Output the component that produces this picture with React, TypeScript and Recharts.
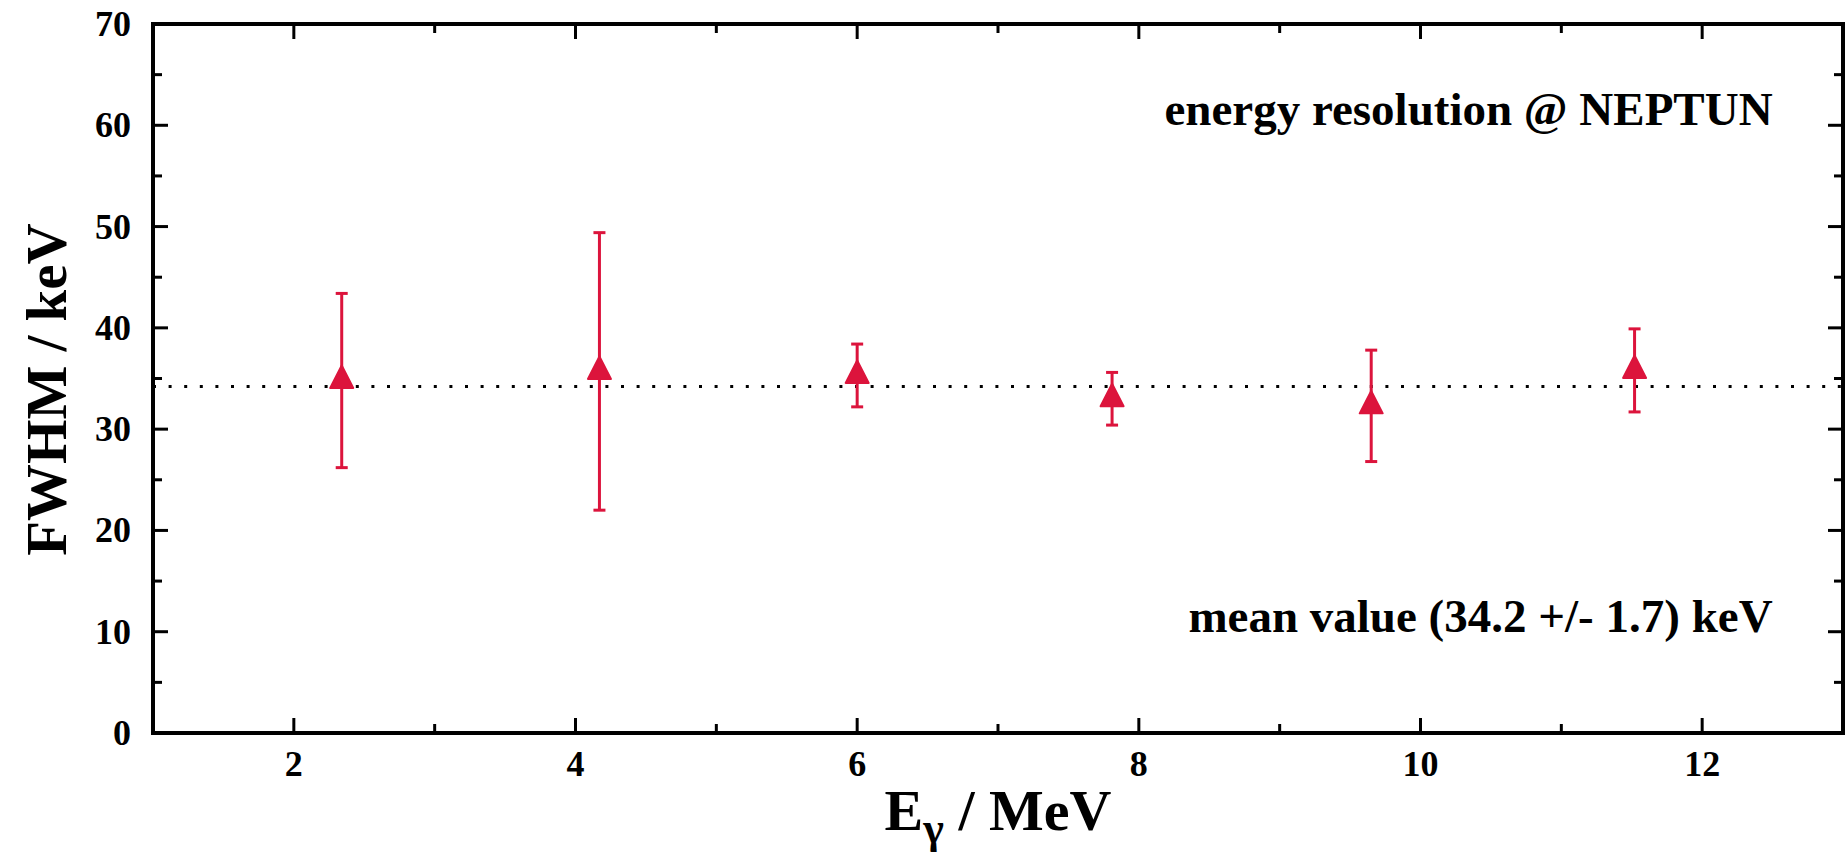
import React from "react";
import {
  ScatterChart,
  Scatter,
  XAxis,
  YAxis,
  ErrorBar,
  ReferenceLine,
  ReferenceDot,
} from "recharts";

// measured FWHM of the gamma lines vs. energy
const energies = [2.34, 4.17, 6.0, 7.81, 9.65, 11.52];
const fwhm = [34.8, 35.7, 35.3, 33.0, 32.3, 35.8];
const fwhmErr = [8.6, 13.7, 3.1, 2.6, 5.5, 4.1];

const meanFwhm = 34.2;
const meanErr = 1.7;

const xTicks = [2, 3, 4, 5, 6, 7, 8, 9, 10, 11, 12];
const xLabels = [2, 4, 6, 8, 10, 12];
const yTicks = [0, 5, 10, 15, 20, 25, 30, 35, 40, 45, 50, 55, 60, 65, 70];
const yLabels = [0, 10, 20, 30, 40, 50, 60, 70];

const data = energies.map((e, i) => ({ e, fwhm: fwhm[i], err: fwhmErr[i] }));

const RED = "#dc143c";
const FONT = "'Liberation Serif', 'Times New Roman', serif";
const MAJOR = 15;
const MINOR = 9;

const BottomTick = (props: any) => {
  const { x, y, payload } = props;
  const major = xLabels.includes(payload.value);
  return (
    <g>
      <line x1={x} x2={x} y1={y} y2={y - (major ? MAJOR : MINOR)} stroke="#000" strokeWidth={3} />
      {major && (
        <text x={x} y={y + 43} textAnchor="middle" fontSize={36} fontWeight="bold" fontFamily={FONT} fill="#000">
          {payload.value}
        </text>
      )}
    </g>
  );
};

const TopTick = (props: any) => {
  const { x, y, payload } = props;
  const major = xLabels.includes(payload.value);
  return <line x1={x} x2={x} y1={y} y2={y + (major ? MAJOR : MINOR)} stroke="#000" strokeWidth={3} />;
};

const LeftTick = (props: any) => {
  const { x, y, payload } = props;
  const major = yLabels.includes(payload.value);
  return (
    <g>
      <line x1={x} x2={x + (major ? MAJOR : MINOR)} y1={y} y2={y} stroke="#000" strokeWidth={3} />
      {major && (
        <text x={x - 22} y={y + 12} textAnchor="end" fontSize={36} fontWeight="bold" fontFamily={FONT} fill="#000">
          {payload.value}
        </text>
      )}
    </g>
  );
};

const RightTick = (props: any) => {
  const { x, y, payload } = props;
  const major = yLabels.includes(payload.value);
  return <line x1={x} x2={x - (major ? MAJOR : MINOR)} y1={y} y2={y} stroke="#000" strokeWidth={3} />;
};

const Triangle = (props: any) => {
  const { cx, cy } = props;
  const pts = `${cx},${cy - 15} ${cx - 11.5},${cy + 7.5} ${cx + 11.5},${cy + 7.5}`;
  return <polygon points={pts} fill={RED} stroke={RED} strokeWidth={2} strokeLinejoin="round" />;
};

const XTitle = (props: any) => {
  const { viewBox } = props;
  const cx = viewBox.x + viewBox.width / 2;
  return (
    <text x={cx} y={viewBox.y + 97} textAnchor="middle" fontSize={58} fontWeight="bold" fontFamily={FONT} fill="#000">
      E
      <tspan fontSize={44} dy={13}>γ</tspan>
      <tspan dy={-13}> / MeV</tspan>
    </text>
  );
};

const YTitle = (props: any) => {
  const { viewBox } = props;
  const cy = viewBox.y + viewBox.height / 2 + 11;
  return (
    <text
      transform={`translate(66, ${cy}) rotate(-90)`}
      textAnchor="middle"
      fontSize={57}
      fontWeight="bold"
      fontFamily={FONT}
      fill="#000"
    >
      FWHM / keV
    </text>
  );
};

const Note = (props: any) => {
  const { viewBox, text } = props;
  return (
    <text x={viewBox.x} y={viewBox.y} textAnchor="end" fontSize={47} fontWeight="bold" fontFamily={FONT} fill="#000">
      {text}
    </text>
  );
};

const axisLine = { stroke: "#000", strokeWidth: 4, strokeLinecap: "square" as const };

export default function App() {
  return (
    <div style={{ width: 1847, height: 853, overflow: "hidden", background: "#fff" }}>
      <style>{"body{margin:0}"}</style>
      <ScatterChart width={1847} height={853} margin={{ top: 0, right: 0, bottom: 0, left: 0 }}>
        <XAxis
          xAxisId="b"
          type="number"
          dataKey="e"
          domain={[1, 13]}
          ticks={xTicks}
          interval={0}
          height={120}
          tickSize={0}
          tickMargin={0}
          tick={<BottomTick />}
          axisLine={axisLine}
          label={<XTitle />}
        />
        <XAxis
          xAxisId="t"
          orientation="top"
          type="number"
          dataKey="e"
          domain={[1, 13]}
          ticks={xTicks}
          interval={0}
          height={24}
          tickSize={0}
          tickMargin={0}
          tick={<TopTick />}
          axisLine={axisLine}
        />
        <YAxis
          yAxisId="l"
          type="number"
          dataKey="fwhm"
          domain={[0, 70]}
          ticks={yTicks}
          interval={0}
          width={153}
          tickSize={0}
          tickMargin={0}
          tick={<LeftTick />}
          axisLine={axisLine}
          label={<YTitle />}
        />
        <YAxis
          yAxisId="r"
          orientation="right"
          type="number"
          dataKey="fwhm"
          domain={[0, 70]}
          ticks={yTicks}
          interval={0}
          width={4}
          tickSize={0}
          tickMargin={0}
          tick={<RightTick />}
          axisLine={axisLine}
        />
        <ReferenceLine
          xAxisId="b"
          yAxisId="l"
          y={meanFwhm}
          stroke="#000"
          strokeWidth={3}
          strokeDasharray="3 12.6"
        />
        <ReferenceDot
          xAxisId="b"
          yAxisId="l"
          x={12.5}
          y={60}
          r={0}
          fill="none"
          stroke="none"
          label={<Note text="energy resolution @ NEPTUN" />}
        />
        <ReferenceDot
          xAxisId="b"
          yAxisId="l"
          x={12.5}
          y={10}
          r={0}
          fill="none"
          stroke="none"
          label={<Note text={`mean value (${meanFwhm} +/- ${meanErr}) keV`} />}
        />
        <Scatter
          xAxisId="b"
          yAxisId="l"
          data={data}
          dataKey="fwhm"
          fill={RED}
          shape={<Triangle />}
          isAnimationActive={false}
        >
          <ErrorBar dataKey="err" direction="y" width={6} stroke={RED} strokeWidth={3} isAnimationActive={false} />
        </Scatter>
        <Scatter
          xAxisId="t"
          yAxisId="r"
          data={data}
          dataKey="fwhm"
          shape={() => <g />}
          isAnimationActive={false}
        />
      </ScatterChart>
    </div>
  );
}
